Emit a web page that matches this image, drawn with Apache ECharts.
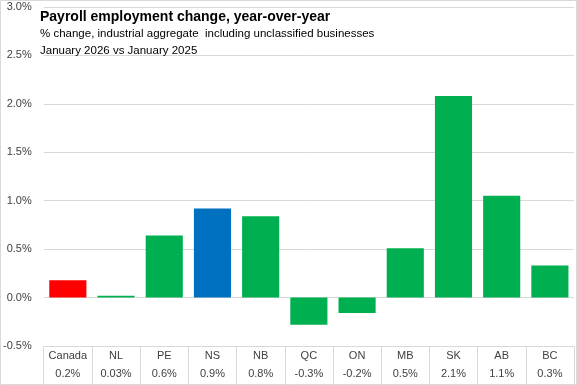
<!DOCTYPE html>
<html>
<head>
<meta charset="utf-8">
<script src="https://cdn.jsdelivr.net/npm/echarts@6/dist/echarts.min.js"></script>
<style>
html,body{margin:0;padding:0;background:#fff;}
#chart{width:577px;height:385px;}
</style>
</head>
<body>
<div id="chart"></div>
<script>
const categories = ['Canada','NL','PE','NS','NB','QC','ON','MB','SK','AB','BC'];
const values = [0.18, 0.02, 0.64, 0.92, 0.84, -0.28, -0.16, 0.51, 2.08, 1.05, 0.33];
const tableLabels = ['0.2%','0.03%','0.6%','0.9%','0.8%','-0.3%','-0.2%','0.5%','2.1%','1.1%','0.3%'];
const barColors = ['#FF0000','#00B050','#00B050','#0070C0','#00B050','#00B050','#00B050','#00B050','#00B050','#00B050','#00B050'];
const titleText = 'Payroll employment change, year-over-year';
const subText = '% change, industrial aggregate  including unclassified businesses\nJanuary 2026 vs January 2025';

const chart = echarts.init(document.getElementById('chart'), null, {renderer:'canvas'});
const FONT = 'Liberation Sans';
chart.setOption({
  animation: false,
  backgroundColor: '#fff',
  title: {
    left: 40, top: 8, padding: 0,
    text: titleText,
    subtext: subText,
    itemGap: -1,
    textStyle: {fontFamily: FONT, fontSize: 14, fontWeight: 'bold', color: '#000', lineHeight: 18},
    subtextStyle: {fontFamily: FONT, fontSize: 11.5, color: '#000', lineHeight: 17}
  },
  grid: {left: 42, right: 3, top: 7, bottom: 39, containLabel: false},
  xAxis: {
    type: 'category',
    data: categories,
    axisLine: {onZero: false, lineStyle: {color: '#d9d9d9'}},
    axisTick: {show: true, length: 38, lineStyle: {color: '#d9d9d9'}},
    axisLabel: {
      interval: 0, margin: 1,
      formatter: (v, i) => '{n|' + v + '}\n{v|' + tableLabels[i] + '}',
      rich: {
        n: {fontFamily: FONT, fontSize: 11, color: '#404040', lineHeight: 18},
        v: {fontFamily: FONT, fontSize: 11, color: '#404040', lineHeight: 18}
      }
    }
  },
  yAxis: {
    type: 'value',
    min: -0.5, max: 3.0, interval: 0.5,
    axisLine: {show: false},
    axisTick: {show: false},
    axisLabel: {fontFamily: FONT, fontSize: 11, color: '#404040', margin: 12,
      formatter: v => v.toFixed(1) + '%'},
    splitLine: {lineStyle: {color: '#d9d9d9', width: 1}}
  },
  series: [{
    type: 'bar',
    data: values.map((v, i) => ({value: v, itemStyle: {color: barColors[i]}})),
    barWidth: '77%'
  }],
  graphic: [{
    type: 'rect', silent: true, z: 100,
    shape: {x: 0.5, y: 0.5, width: 576, height: 384},
    style: {fill: 'none', stroke: '#d9d9d9', lineWidth: 1}
  }]
});
</script>
</body>
</html>
